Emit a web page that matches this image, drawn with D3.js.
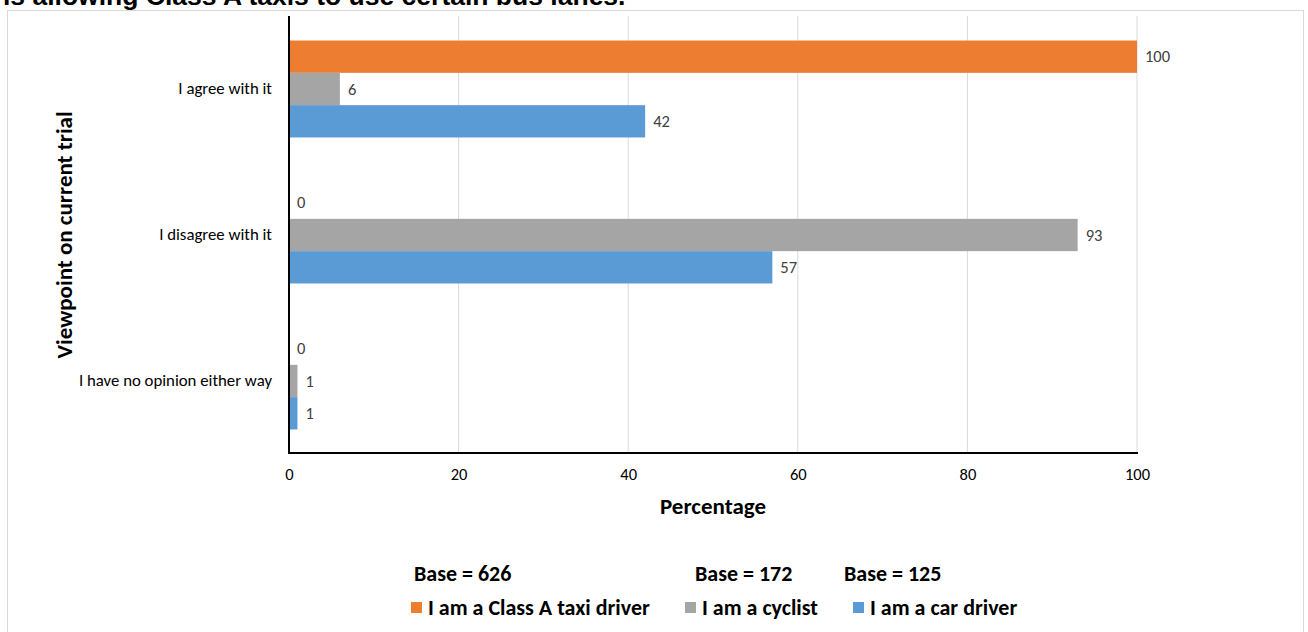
<!DOCTYPE html>
<html>
<head>
<meta charset="utf-8">
<script src="https://cdn.jsdelivr.net/npm/d3@7"></script>
<style>
  html, body { margin: 0; padding: 0; background: #fff; }
  svg { display: block; }
</style>
</head>
<body>
<svg id="chart" width="1308" height="632"></svg>
<script>
// Viewpoints on the bus-lane trial, by respondent group (percentages)
const categories = ["I agree with it", "I disagree with it", "I have no opinion either way"];
const seriesNames = ["I am a Class A taxi driver", "I am a cyclist", "I am a car driver"];
const taxiValues = [100, 0, 0];
const cyclistValues = [6, 93, 1];
const carValues = [42, 57, 1];
const baseLabels = ["Base = 626", "Base = 172", "Base = 125"];
const xTicks = [0, 20, 40, 60, 80, 100];
const colors = ["#ED7D31", "#A5A5A5", "#5B9BD5"];

const titleText = "is allowing Class A taxis to use certain bus lanes.";
const yTitle = "Viewpoint on current trial";
const xTitle = "Percentage";

const font = "Carlito, Calibri, Lato, 'Open Sans', sans-serif";
const svg = d3.select("#chart");

// outer chart frame
svg.append("rect")
  .attr("x", 7.5).attr("y", 10.5)
  .attr("width", 1296).attr("height", 640)
  .attr("fill", "#fff").attr("stroke", "#d9d9d9").attr("stroke-width", 1);

// title (runs off the top edge)
svg.append("text")
  .attr("x", 3).attr("y", 5)
  .attr("font-family", "Arial, 'Liberation Sans', sans-serif")
  .attr("font-weight", "bold").attr("font-size", 26.5)
  .attr("fill", "#000")
  .text(titleText);

const x = d3.scaleLinear().domain([0, 100]).range([289, 1137]);
const y = d3.scaleBand().domain(categories).range([16, 454])
  .paddingInner(0.336).paddingOuter(0.168);
const ySub = d3.scaleBand().domain(seriesNames).range([0, y.bandwidth()]);

// gridlines
svg.append("g").selectAll("line")
  .data(xTicks.filter(t => t > 0))
  .join("line")
  .attr("x1", d => x(d)).attr("x2", d => x(d))
  .attr("y1", 16).attr("y2", 453)
  .attr("stroke", "#d9d9d9").attr("stroke-width", 1);

// x tick labels via axis
const xAxis = svg.append("g")
  .attr("transform", "translate(0,453)")
  .call(d3.axisBottom(x).tickValues(xTicks).tickSize(0).tickPadding(15));
xAxis.select(".domain").remove();
xAxis.selectAll("text")
  .attr("font-family", font).attr("font-size", 16.5).attr("fill", "#000");

// category labels via axis
const yAxis = svg.append("g")
  .attr("transform", "translate(289,0)")
  .call(d3.axisLeft(y).tickSize(0).tickPadding(17));
yAxis.select(".domain").remove();
yAxis.selectAll("text")
  .attr("font-family", font).attr("font-size", 16.8).attr("fill", "#000");

// bars
const seriesValues = [taxiValues, cyclistValues, carValues];
const rows = [];
categories.forEach((c, i) => {
  seriesNames.forEach((s, j) => {
    rows.push({ cat: c, series: s, value: seriesValues[j][i], color: colors[j] });
  });
});

svg.append("g").selectAll("rect")
  .data(rows)
  .join("rect")
  .attr("x", x(0))
  .attr("y", d => y(d.cat) + ySub(d.series))
  .attr("width", d => x(d.value) - x(0))
  .attr("height", ySub.bandwidth())
  .attr("fill", d => d.color);

// value labels
svg.append("g").selectAll("text")
  .data(rows)
  .join("text")
  .attr("x", d => x(d.value) + 8)
  .attr("y", d => y(d.cat) + ySub(d.series) + ySub.bandwidth() / 2)
  .attr("dy", "0.35em")
  .attr("font-family", font).attr("font-size", 16.5)
  .attr("fill", "#404040")
  .text(d => d.value);

// axis lines
svg.append("line")
  .attr("x1", 289).attr("x2", 289).attr("y1", 16).attr("y2", 454)
  .attr("stroke", "#000").attr("stroke-width", 2);
svg.append("line")
  .attr("x1", 288).attr("x2", 1138).attr("y1", 453).attr("y2", 453)
  .attr("stroke", "#000").attr("stroke-width", 2);

// axis titles
svg.append("text")
  .attr("transform", "translate(64,235) rotate(-90)")
  .attr("text-anchor", "middle").attr("dy", "0.35em")
  .attr("font-family", font).attr("font-weight", "bold").attr("font-size", 23)
  .attr("fill", "#000")
  .text(yTitle);
svg.append("text")
  .attr("x", 713).attr("y", 506).attr("dy", "0.35em")
  .attr("text-anchor", "middle")
  .attr("font-family", font).attr("font-weight", "bold").attr("font-size", 23)
  .attr("fill", "#000")
  .text(xTitle);

// base sizes
const baseX = [414, 695, 844];
svg.append("g").selectAll("text")
  .data(baseLabels)
  .join("text")
  .attr("x", (d, i) => baseX[i]).attr("y", 573).attr("dy", "0.35em")
  .attr("font-family", font).attr("font-weight", "bold").attr("font-size", 22)
  .attr("fill", "#000")
  .text(d => d);

// legend
const legendX = [411, 685, 853];
const legend = svg.append("g").selectAll("g")
  .data(seriesNames)
  .join("g")
  .attr("transform", (d, i) => `translate(${legendX[i]},607)`);
legend.append("rect")
  .attr("x", 0).attr("y", -5).attr("width", 11).attr("height", 11)
  .attr("fill", (d, i) => colors[i]);
legend.append("text")
  .attr("x", 17).attr("y", 0).attr("dy", "0.35em")
  .attr("font-family", font).attr("font-weight", "bold").attr("font-size", 22)
  .attr("fill", "#000")
  .text(d => d);
</script>
</body>
</html>
